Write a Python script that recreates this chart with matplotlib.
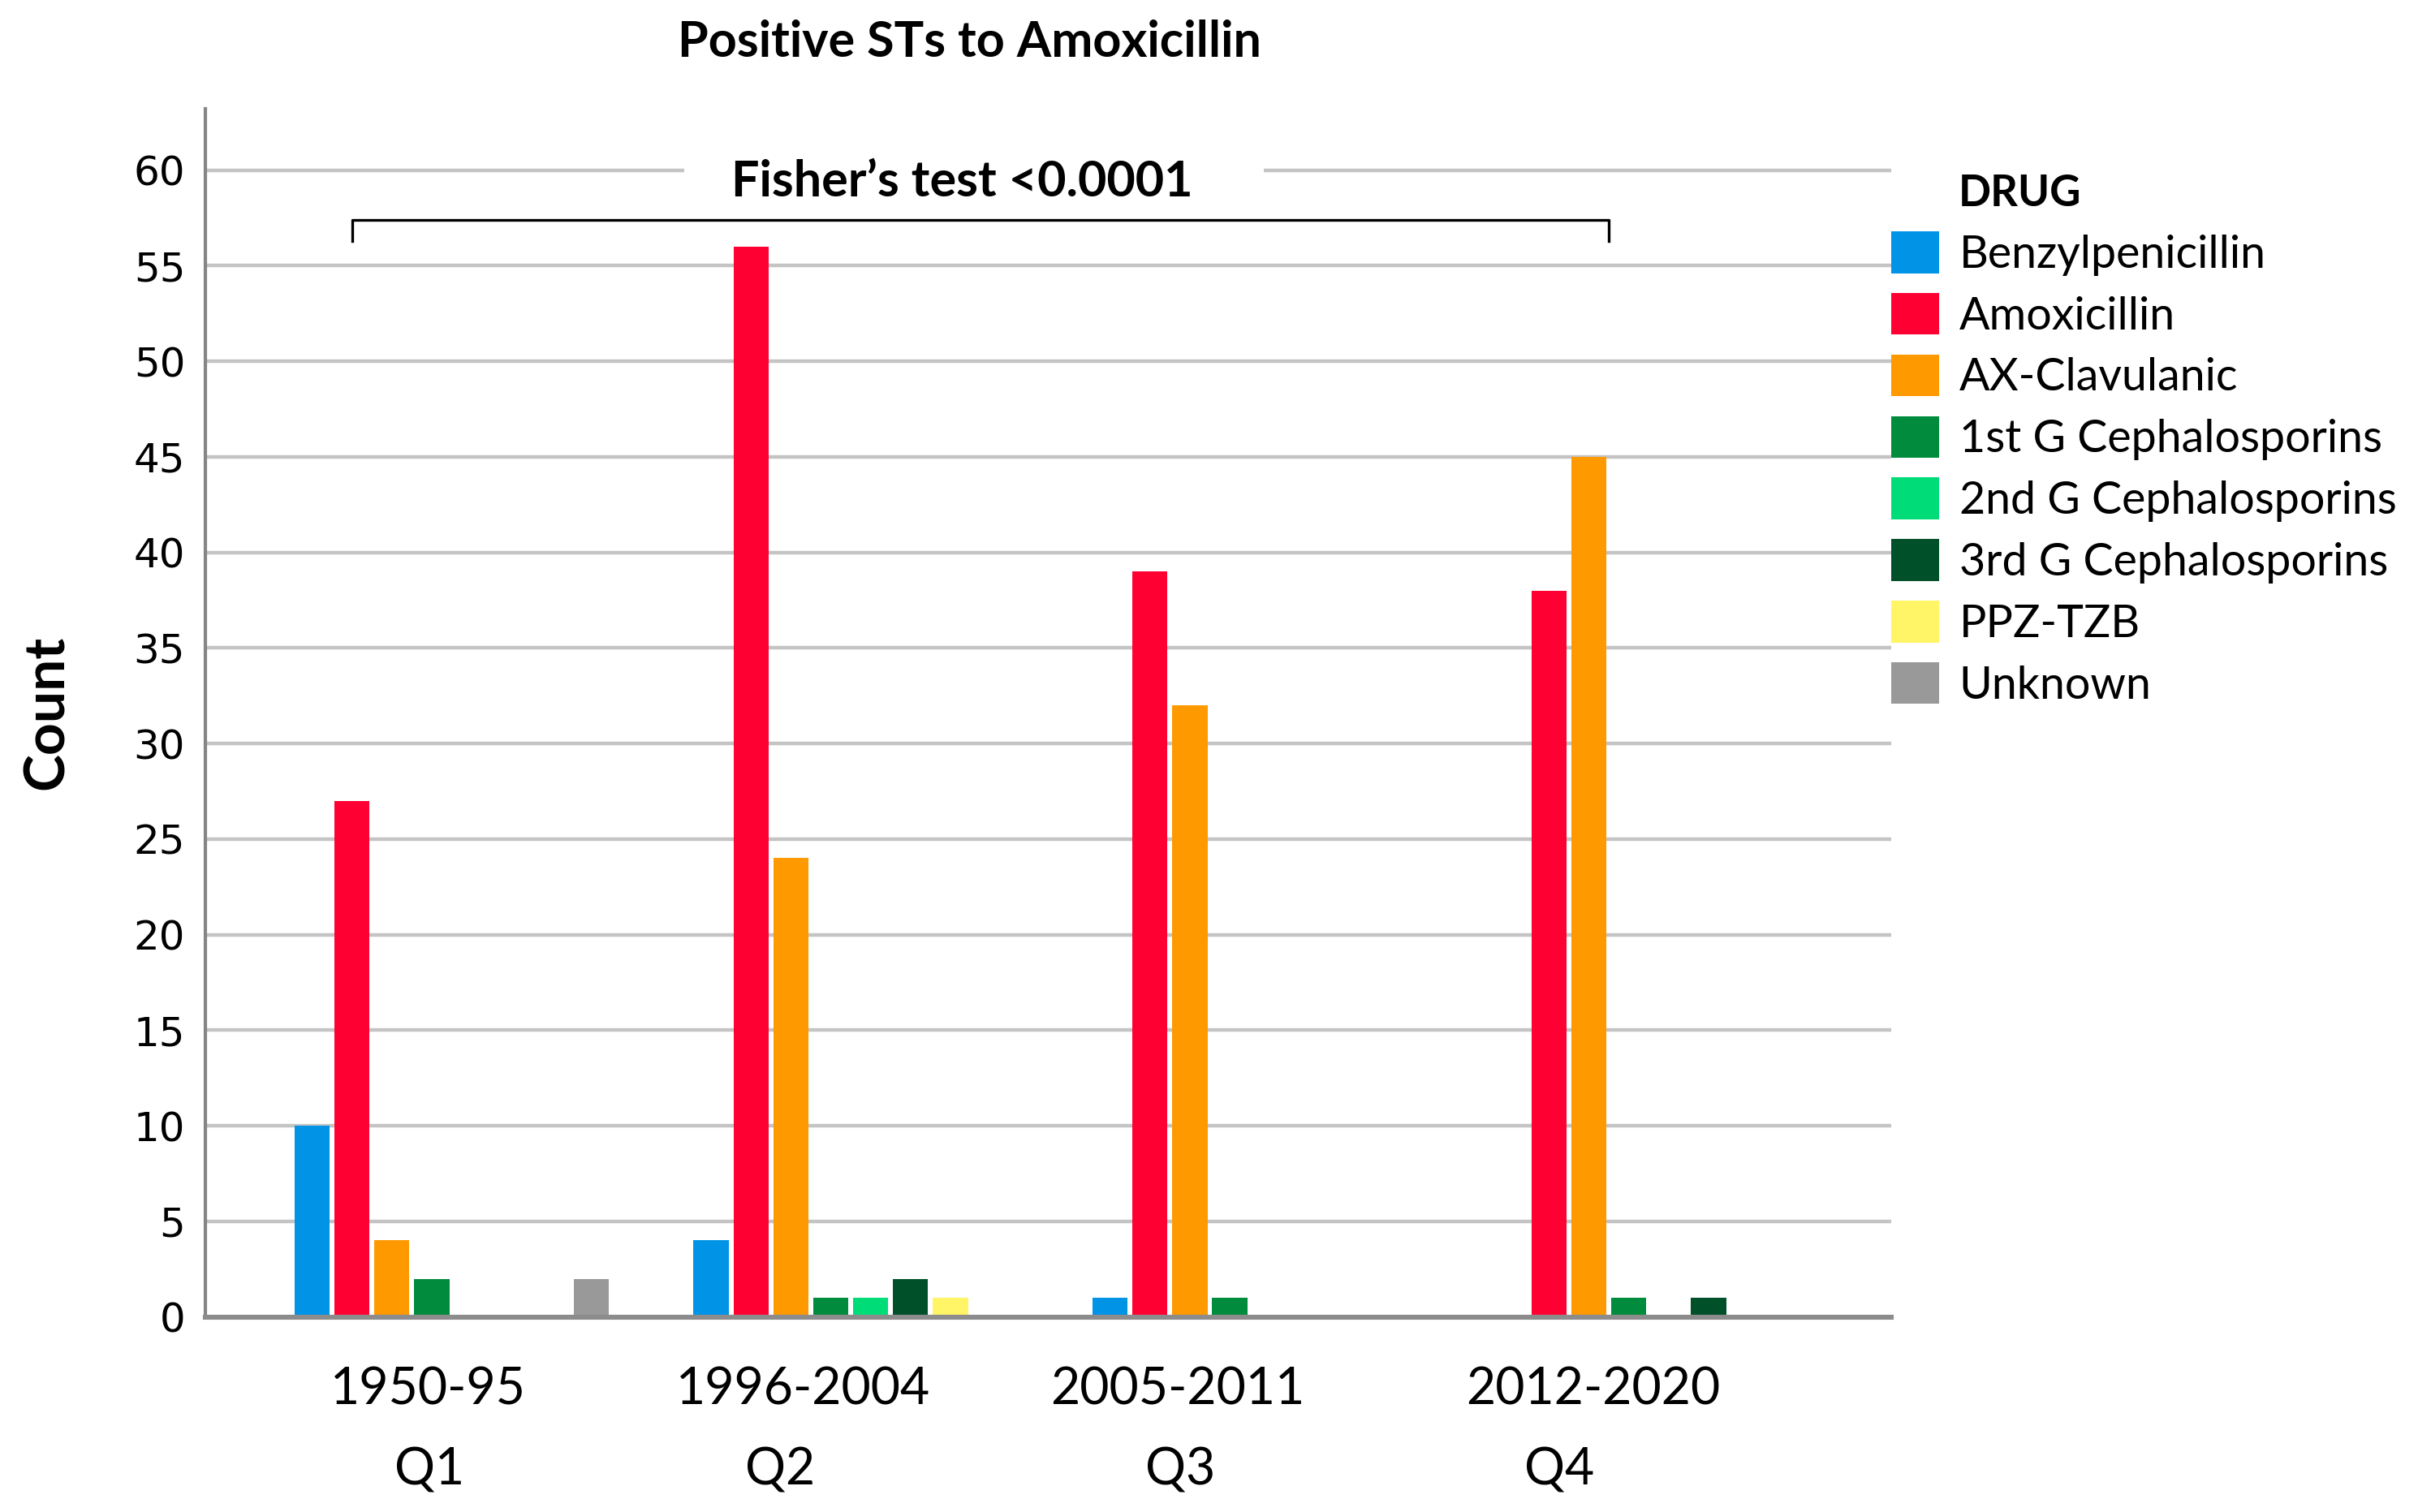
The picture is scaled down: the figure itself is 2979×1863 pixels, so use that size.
"""
clustered bar chart: positive STs to amoxicillin,
count per drug in each period (Q1..Q4)
"""

import numpy as np
import matplotlib
matplotlib.use("Agg")
import matplotlib.pyplot as plt
from matplotlib.patches import Patch

# data
periods = ["1950-95", "1996-2004", "2005-2011", "2012-2020"]
quarters = ["Q1", "Q2", "Q3", "Q4"]
drugs = ["Benzylpenicillin", "Amoxicillin", "AX-Clavulanic", "1st G Cephalosporins",
         "2nd G Cephalosporins", "3rd G Cephalosporins", "PPZ-TZB", "Unknown"]
benzylpenicillin = [10, 4, 1, 0]
amoxicillin = [27, 56, 39, 38]
ax_clavulanic = [4, 24, 32, 45]
ceph_1st = [2, 1, 1, 1]
ceph_2nd = [0, 1, 0, 0]
ceph_3rd = [0, 2, 0, 1]
ppz_tzb = [0, 1, 0, 0]
unknown = [2, 0, 0, 0]
y_ticks = [0, 5, 10, 15, 20, 25, 30, 35, 40, 45, 50, 55, 60]

colors = ["#0093E6", "#FF0033", "#FF9900", "#008C3C",
          "#00DC78", "#00502A", "#FFF566", "#999999"]

series = [benzylpenicillin, amoxicillin, ax_clavulanic, ceph_1st,
          ceph_2nd, ceph_3rd, ppz_tzb, unknown]

font = "Lato"

fig = plt.figure(figsize=(14.895, 9.315), dpi=200)
ax = fig.add_axes([0.085, 0.129, 0.697, 0.799])

x = np.arange(len(periods))
slot = 0.1
width = 0.088
for i, (vals, col, name) in enumerate(zip(series, colors, drugs)):
    off = (i - 3.5) * slot
    ax.bar(x + off, vals, width, color=col, label=name, zorder=3)

ax.set_xlim(-0.617, 3.607)
ax.set_ylim(0, 63.2)

# grid
ax.set_yticks(y_ticks)
ax.yaxis.grid(True, color="#C4C4C4", linewidth=1.6, zorder=0)
ax.set_axisbelow(True)
ax.tick_params(axis="y", length=0, pad=9, labelsize=18)
for lab in ax.get_yticklabels():
    lab.set_family("DejaVu Sans")

# SPSS puts the category labels a little off the cluster centres
period_shift = np.array([-0.06, -0.12, -0.18, -0.14])
quarter_shift = np.array([-0.055, -0.176, -0.174, -0.224])
ax.set_xticks(x + period_shift)
ax.set_xticklabels(periods, family=font, fontsize=22.5)
ax.set_xticks(x + quarter_shift, minor=True)
ax.set_xticklabels(quarters, minor=True, family=font, fontsize=22.5)
ax.tick_params(axis="x", which="major", length=0, pad=22)
ax.tick_params(axis="x", which="minor", length=0, pad=57.5)

ax.spines["top"].set_visible(False)
ax.spines["right"].set_visible(False)
ax.spines["left"].set_color("#858585")
ax.spines["left"].set_linewidth(1.5)
ax.spines["bottom"].set_color("#8C8C8C")
ax.spines["bottom"].set_linewidth(2.2)
ax.spines["bottom"].set_zorder(4)

ax.set_ylabel("Count", family=font, fontweight="bold", fontsize=25, labelpad=27)

# significance bracket
ax.plot([-0.25, -0.25, 2.90, 2.90], [56.3, 57.4, 57.4, 56.3], color="black",
        linewidth=1.2, zorder=5, clip_on=False)
# gap in the 60 gridline behind the test label
ax.plot([0.582, 2.035], [60, 60], color="white", linewidth=3.5, zorder=1,
        solid_capstyle="butt")
ax.text(1.28, 59.4, "Fisher\u2019s test <0.0001", ha="center", va="center",
        family=font, fontweight="bold", fontsize=22, zorder=6)

fig.text(0.401, 0.972, "Positive STs to Amoxicillin", ha="center", va="center",
         family=font, fontweight="bold", fontsize=22)

# legend
handles = [Patch(facecolor=c, edgecolor="none") for c in colors]
leg = fig.legend(handles, drugs, loc="upper left", bbox_to_anchor=(0.7823, 0.847),
                 frameon=False, prop={"family": font, "size": 20},
                 handlelength=1.05, handleheight=1.05, handletextpad=0.45,
                 labelspacing=0.38, borderaxespad=0, borderpad=0)
fig.text(0.810, 0.872, "DRUG", ha="left", va="center",
         family=font, fontweight="bold", fontsize=19)

plt.savefig("out.png", dpi=200)
plt.close()
